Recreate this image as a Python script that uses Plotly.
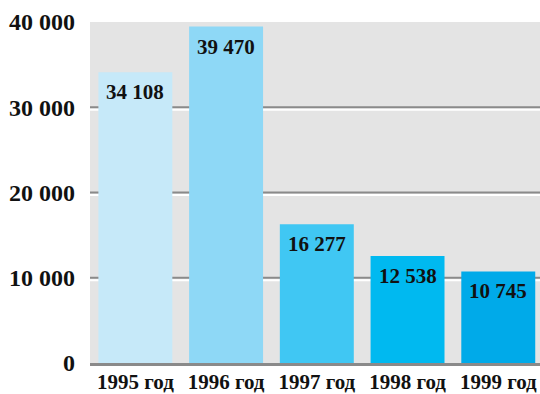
import plotly.graph_objects as go

# Данные
years = ["1995 год", "1996 год", "1997 год", "1998 год", "1999 год"]
values = [34108, 39470, 16277, 12538, 10745]
bar_colors = ["#c6e9f9", "#8ed8f6", "#40c7f3", "#00b9f0", "#00aae9"]
y_ticks = [0, 10000, 20000, 30000, 40000]
y_tick_labels = ["0", "10 000", "20 000", "30 000", "40 000"]
grid_values = [10000, 20000, 30000]


def fmt(v):
    return f"{v:,}".replace(",", " ")


FONT = "Liberation Serif"

fig = go.Figure(
    go.Bar(
        x=years,
        y=values,
        marker=dict(color=bar_colors, line=dict(width=0)),
        hoverinfo="skip",
    )
)

shapes = []
for v in grid_values:
    # серая линия сетки
    shapes.append(dict(
        type="line", layer="below", xref="paper", x0=0, x1=1,
        yref="y", y0=v, y1=v, line=dict(color="#8a8a8a", width=2),
    ))
    # белая подсветка под линией
    shapes.append(dict(
        type="line", layer="below", xref="paper", x0=0, x1=1,
        yref="y", ysizemode="pixel", yanchor=v, y0=-2.5, y1=-2.5,
        line=dict(color="#ffffff", width=2),
    ))
# нижняя базовая линия
shapes.append(dict(
    type="line", layer="above", xref="paper", x0=0, x1=1,
    yref="paper", ysizemode="pixel", yanchor=0, y0=-1.5, y1=-1.5,
    line=dict(color="#8a8a8a", width=3),
))

annotations = [
    dict(
        x=yr, y=v, xref="x", yref="y", text=fmt(v), showarrow=False,
        yanchor="top", yshift=-6,
        font=dict(family=FONT, size=21, color="#111111", weight="bold"),
    )
    for yr, v in zip(years, values)
]

fig.update_layout(
    width=540,
    height=394,
    margin=dict(l=90, r=0, t=22, b=31),
    paper_bgcolor="#ffffff",
    plot_bgcolor="#e4e4e4",
    bargap=0.185,
    showlegend=False,
    shapes=shapes,
    annotations=annotations,
    xaxis=dict(
        type="category",
        range=[-0.5, 4.46],
        showgrid=False,
        zeroline=False,
        showline=False,
        ticks="",
        ticklabelstandoff=4,
        tickfont=dict(family=FONT, size=21, color="#111111", weight="bold"),
        fixedrange=True,
    ),
    yaxis=dict(
        range=[0, 40000],
        tickvals=y_ticks,
        ticktext=y_tick_labels,
        showgrid=False,
        zeroline=False,
        showline=False,
        ticks="",
        ticklabelstandoff=14,
        tickfont=dict(family=FONT, size=24, color="#111111", weight="bold"),
        fixedrange=True,
    ),
)

fig.write_html("out.html", config={"displayModeBar": False})
